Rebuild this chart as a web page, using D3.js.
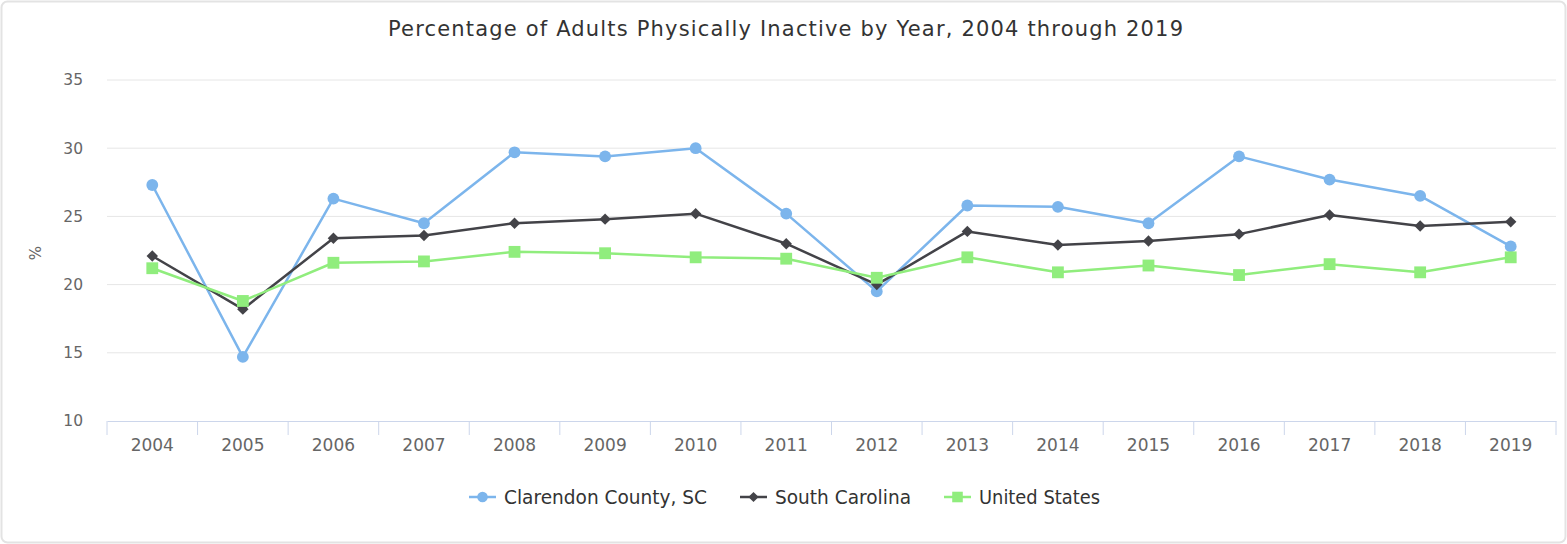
<!DOCTYPE html>
<html>
<head>
<meta charset="utf-8">
<script src="https://cdn.jsdelivr.net/npm/d3@7"></script>
<style>
  body { margin: 0; background: #fff; }
  svg { font-family: "DejaVu Sans", Verdana, sans-serif; }
</style>
</head>
<body>
<div id="chart"></div>
<script>
const width = 1567, height = 544;
const margin = {top: 80, right: 11, bottom: 123, left: 107};

const years = ["2004","2005","2006","2007","2008","2009","2010","2011","2012","2013","2014","2015","2016","2017","2018","2019"];
const clarendon = [27.3, 14.7, 26.3, 24.5, 29.7, 29.4, 30.0, 25.2, 19.5, 25.8, 25.7, 24.5, 29.4, 27.7, 26.5, 22.8];
const southCarolina = [22.1, 18.2, 23.4, 23.6, 24.5, 24.8, 25.2, 23.0, 20.0, 23.9, 22.9, 23.2, 23.7, 25.1, 24.3, 24.6];
const unitedStates = [21.2, 18.8, 21.6, 21.7, 22.4, 22.3, 22.0, 21.9, 20.5, 22.0, 20.9, 21.4, 20.7, 21.5, 20.9, 22.0];
const yTicks = [10, 15, 20, 25, 30, 35];

// Highcharts-style diamond (square turned 45 degrees)
const symbolRhomb = {
  draw(ctx, size) {
    const r = Math.sqrt(size) / 2;
    ctx.moveTo(0, -r);
    ctx.lineTo(r, 0);
    ctx.lineTo(0, r);
    ctx.lineTo(-r, 0);
    ctx.closePath();
  }
};

const series = [
  {name: "Clarendon County, SC", values: clarendon, color: "#7cb5ec", symbol: d3.symbolCircle, size: 110, legendX: 469, textW: 203},
  {name: "South Carolina", values: southCarolina, color: "#434348", symbol: symbolRhomb, size: 130, legendX: 740, textW: 136},
  {name: "United States", values: unitedStates, color: "#90ed7d", symbol: d3.symbolSquare, size: 140, legendX: 944, textW: 121}
];

let svg = d3.select("#chart")
  .append("svg")
  .attr("width", width)
  .attr("height", height);

// outer frame
svg.append("rect")
  .attr("x", 1.5).attr("y", 1.5)
  .attr("width", width - 3).attr("height", height - 3)
  .attr("rx", 6)
  .attr("fill", "#fff")
  .attr("stroke", "#e3e3e3")
  .attr("stroke-width", 2);

svg.append("text")
  .attr("x", 388)
  .attr("y", 36)
  .attr("textLength", 795)
  .attr("lengthAdjust", "spacing")
  .style("font-size", "21px")
  .style("fill", "#333")
  .text("Percentage of Adults Physically Inactive by Year, 2004 through 2019");

let g = svg.append("g")
  .attr("transform", `translate(${margin.left}, ${margin.top})`);

const innerW = width - margin.left - margin.right;
const innerH = height - margin.top - margin.bottom;

let x = d3.scaleBand()
  .domain(years)
  .range([0, innerW]);

let y = d3.scaleLinear()
  .domain([10, 35])
  .range([innerH, 0]);

// gridlines
g.selectAll(".grid")
  .data(yTicks.filter(d => d !== 10))
  .enter()
  .append("line")
  .attr("x1", 0).attr("x2", innerW)
  .attr("y1", d => y(d)).attr("y2", d => y(d))
  .attr("stroke", "#e6e6e6")
  .attr("stroke-width", 1);

// y axis labels
let yAxis = g.append("g")
  .call(d3.axisLeft(y).tickValues(yTicks).tickSize(0).tickPadding(24));
yAxis.select(".domain").remove();
yAxis.selectAll("text")
  .style("font-size", "15.5px")
  .style("fill", "#666")
  .style("font-family", "DejaVu Sans, sans-serif");

svg.append("text")
  .attr("transform", `translate(41, ${margin.top + y(22.3)}) rotate(-90)`)
  .attr("text-anchor", "middle")
  .style("font-size", "15px")
  .style("fill", "#666")
  .text("%");

// x axis
let xAxis = g.append("g")
  .attr("transform", `translate(0, ${innerH})`)
  .call(d3.axisBottom(x).tickSize(0).tickPadding(18));
xAxis.select(".domain").attr("stroke", "#ccd6eb");
xAxis.selectAll("text")
  .style("font-size", "17px")
  .style("fill", "#666")
  .style("font-family", "DejaVu Sans, sans-serif");
xAxis.selectAll(".sep")
  .data(d3.range(years.length + 1))
  .enter()
  .append("line")
  .attr("class", "sep")
  .attr("x1", i => i * x.bandwidth()).attr("x2", i => i * x.bandwidth())
  .attr("y1", 0).attr("y2", 14)
  .attr("stroke", "#ccd6eb");

// lines and markers
let line = d3.line()
  .x((d, i) => x(years[i]) + x.bandwidth() / 2)
  .y(d => y(d));

series.forEach(s => {
  g.append("path")
    .attr("d", line(s.values))
    .attr("fill", "none")
    .attr("stroke", s.color)
    .attr("stroke-width", 2.5)
    .attr("stroke-linejoin", "round");

  g.selectAll(null)
    .data(s.values)
    .enter()
    .append("path")
    .attr("d", d3.symbol().type(s.symbol).size(s.size))
    .attr("transform", (d, i) => `translate(${x(years[i]) + x.bandwidth() / 2}, ${y(d)})`)
    .attr("fill", s.color);
});

// legend
let legend = svg.append("g").attr("transform", "translate(0, 497)");
series.forEach(s => {
  let item = legend.append("g").attr("transform", `translate(${s.legendX}, 0)`);
  item.append("line")
    .attr("x1", 0).attr("x2", 27)
    .attr("y1", 0).attr("y2", 0)
    .attr("stroke", s.color)
    .attr("stroke-width", 2.5);
  item.append("path")
    .attr("d", d3.symbol().type(s.symbol).size(s.size * 0.8))
    .attr("transform", "translate(13.5, 0)")
    .attr("fill", s.color);
  item.append("text")
    .attr("x", 35)
    .attr("y", 7)
    .attr("textLength", s.textW)
    .attr("lengthAdjust", "spacingAndGlyphs")
    .style("font-size", "19px")
    .style("fill", "#333")
    .text(s.name);
});
</script>
</body>
</html>
